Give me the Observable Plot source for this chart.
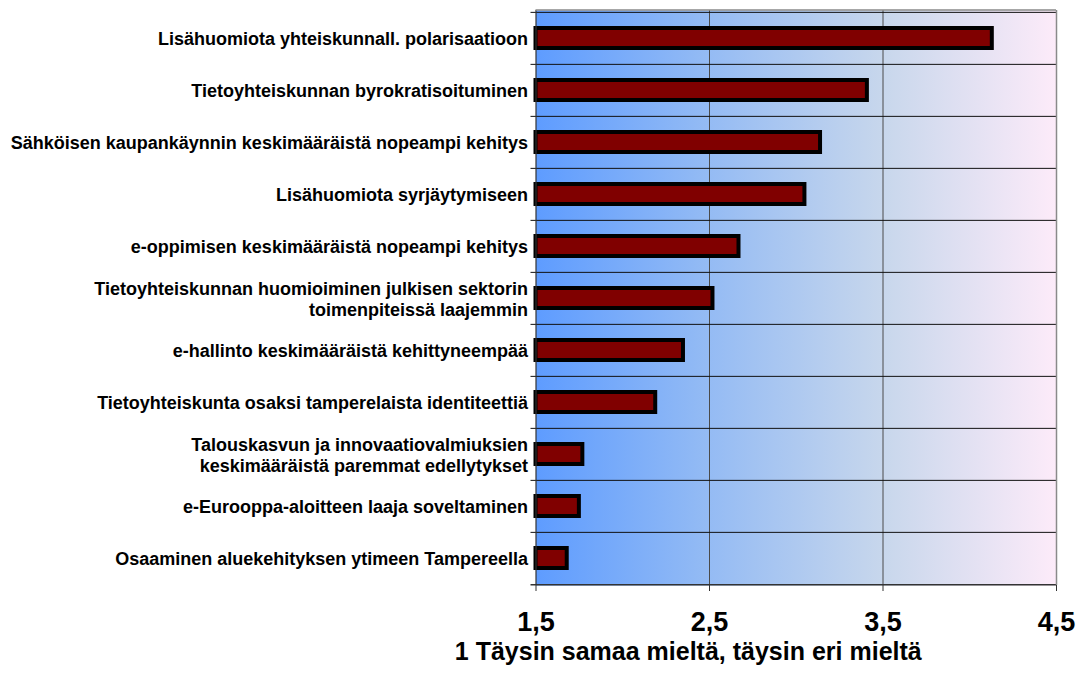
<!DOCTYPE html>
<html>
<head>
<meta charset="utf-8">
<script src="https://cdn.jsdelivr.net/npm/d3@7"></script>
<script src="https://cdn.jsdelivr.net/npm/@observablehq/plot@0.6"></script>
<style>
  html, body { margin: 0; padding: 0; background: white; }
  #chart { width: 1091px; height: 673px; overflow: hidden; }
</style>
</head>
<body>
<div id="chart"></div>
<script>
const categories = [
  "Lisähuomiota yhteiskunnall. polarisaatioon",
  "Tietoyhteiskunnan byrokratisoituminen",
  "Sähköisen kaupankäynnin keskimääräistä nopeampi kehitys",
  "Lisähuomiota syrjäytymiseen",
  "e-oppimisen keskimääräistä nopeampi kehitys",
  "Tietoyhteiskunnan huomioiminen julkisen sektorin\ntoimenpiteissä laajemmin",
  "e-hallinto keskimääräistä kehittyneempää",
  "Tietoyhteiskunta osaksi tamperelaista identiteettiä",
  "Talouskasvun ja innovaatiovalmiuksien\nkeskimääräistä paremmat edellytykset",
  "e-Eurooppa-aloitteen laaja soveltaminen",
  "Osaaminen aluekehityksen ytimeen Tampereella"
];
const values = [4.13, 3.41, 3.14, 3.05, 2.67, 2.52, 2.35, 2.19, 1.77, 1.75, 1.68];
const xTicks = [1.5, 2.5, 3.5, 4.5];
const gridValues = [2.5, 3.5];
const axisTitle = "1 Täysin samaa mieltä, täysin eri mieltä";

const data = categories.map((label, i) => ({label, value: values[i]}));

const W = 1091, H = 673;
const mTop = 10, mBottom = 88, mLeft = 535.5, mRight = 35;
const bw = (H - mTop - mBottom) / categories.length;
const xMin = xTicks[0], xMax = xTicks[xTicks.length - 1];

const chart = Plot.plot({
  width: W,
  height: H,
  marginTop: mTop,
  marginBottom: mBottom,
  marginLeft: mLeft,
  marginRight: mRight,
  style: {fontFamily: "Arial, 'Liberation Sans', sans-serif", fontWeight: "bold", color: "black", background: "white", overflow: "visible"},
  x: {domain: [xMin, xMax]},
  y: {domain: categories, padding: 0, axis: null},
  marks: [
    Plot.frame({fill: "url(#bgGrad)", stroke: null}),
    Plot.ruleX(gridValues, {stroke: "#4a4a4a", strokeWidth: 1}),
    Plot.ruleY(categories, {y: d => d, dy: -bw / 2, insetLeft: -5, stroke: "#111", strokeWidth: 1}),
    Plot.ruleY([categories[categories.length - 1]], {y: d => d, dy: bw / 2, insetLeft: -5, stroke: "#333", strokeWidth: 1.5}),
    Plot.text(data, {
      x: () => xMin, y: "label", text: "label",
      textAnchor: "end", dx: -8, fontSize: 18, fontWeight: "bold",
      lineHeight: 1.2, fill: "black"
    }),
    Plot.barX(data, {
      x1: () => xMin, x2: "value", y: "label",
      insetTop: 16, insetBottom: 16,
      fill: "#800000", stroke: "black", strokeWidth: 4
    }),
    Plot.ruleX([xMin], {stroke: "#333", strokeWidth: 1.2}),
    Plot.ruleX([xMax], {stroke: "#8a8a8a", strokeWidth: 1.5}),
    Plot.axisX(xTicks, {
      tickFormat: d => d.toFixed(1).replace(".", ","),
      tickSize: 6, tickPadding: 20, fontSize: 27, fontWeight: "bold",
      label: null, stroke: "#333"
    }),
    Plot.text([axisTitle], {
      frameAnchor: "bottom", dx: -108, dy: 74,
      fontSize: 25, fontWeight: "bold", fill: "black"
    })
  ]
});

// background gradient definition referenced by the frame fill
const svg = d3.select(chart.tagName.toLowerCase() === "svg" ? chart : chart.querySelector("svg"));
const grad = svg.insert("defs", ":first-child")
  .append("linearGradient")
  .attr("id", "bgGrad")
  .attr("x1", "0%").attr("x2", "100%").attr("y1", "0%").attr("y2", "0%");
[["0%", "#5e9cff"], ["33%", "#94bbf4"], ["67%", "#c8d7ec"], ["100%", "#fdebf9"]]
  .forEach(([o, c]) => grad.append("stop").attr("offset", o).attr("stop-color", c));

// top border in grey
svg.append("line")
  .attr("x1", mLeft).attr("x2", W - mRight)
  .attr("y1", mTop).attr("y2", mTop)
  .attr("stroke", "#8a8a8a").attr("stroke-width", 1.5);

document.getElementById("chart").appendChild(chart);
</script>
</body>
</html>
